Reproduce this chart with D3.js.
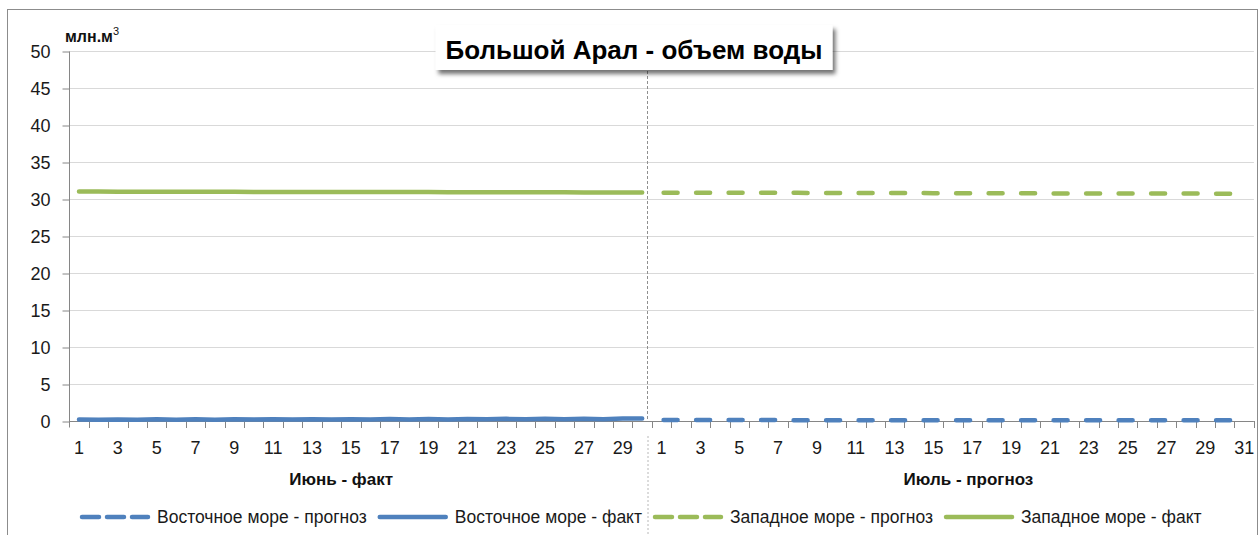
<!DOCTYPE html>
<html>
<head>
<meta charset="utf-8">
<script src="https://cdn.jsdelivr.net/npm/d3@7"></script>
<style>
  html, body { margin: 0; padding: 0; background: #fff; }
  svg { display: block; font-family: "Liberation Sans", Arial, sans-serif; }
</style>
</head>
<body>
<svg id="chart" width="1260" height="535"></svg>
<script>
// ---------- DATA ----------
const juneDays = [1,2,3,4,5,6,7,8,9,10,11,12,13,14,15,16,17,18,19,20,21,22,23,24,25,26,27,28,29,30];
const julyDays = [1,2,3,4,5,6,7,8,9,10,11,12,13,14,15,16,17,18,19,20,21,22,23,24,25,26,27,28,29,30,31];
const groupLabels = ["Июнь - факт", "Июль - прогноз"];
const yTicks = [0,5,10,15,20,25,30,35,40,45,50];

// East sea (Восточное море) – June fact, July forecast
const eastFact = [0.20,0.17,0.21,0.17,0.22,0.18,0.22,0.18,0.23,0.19,0.24,0.19,0.24,0.20,0.25,0.20,0.26,0.21,0.27,0.21,0.28,0.22,0.29,0.23,0.30,0.24,0.31,0.25,0.33,0.35];
const eastForecast = [0.12,0.12,0.12,0.12,0.12,0.12,0.12,0.11,0.11,0.11,0.11,0.11,0.11,0.11,0.11,0.11,0.11,0.11,0.11,0.10,0.10,0.10,0.10,0.10,0.10,0.10,0.10,0.10,0.10,0.10,0.10];
// West sea (Западное море) – June fact, July forecast
const westFact = [31.00,31.00,30.99,30.99,30.98,30.98,30.97,30.97,30.97,30.96,30.96,30.95,30.95,30.95,30.94,30.94,30.93,30.93,30.93,30.92,30.92,30.91,30.91,30.91,30.90,30.90,30.89,30.89,30.88,30.88];
const westForecast = [30.86,30.86,30.85,30.85,30.84,30.84,30.83,30.83,30.82,30.82,30.81,30.81,30.80,30.80,30.79,30.79,30.78,30.78,30.77,30.77,30.76,30.76,30.76,30.75,30.75,30.74,30.74,30.73,30.73,30.72,30.72];

const seriesNames = ["Восточное море - прогноз", "Восточное море - факт", "Западное море - прогноз", "Западное море - факт"];
const titleText = "Большой Арал - объем воды";
const unitText = "млн.м";

// ---------- STYLE ----------
const BLUE = "#4F81BD", GREEN = "#9BBB59";
const AXIS = "#868686", GRID = "#D9D9D9";

const svg = d3.select("#chart");
const juneKeys = juneDays.map(d => "J" + d);
const julyKeys = julyDays.map(d => "L" + d);
const keys = juneKeys.concat(julyKeys);

const x = d3.scaleBand().domain(keys).range([69.3, 1253.9]).padding(0);
const y = d3.scaleLinear().domain([0, 50]).range([421, 51]);
const cx = k => x(k) + x.bandwidth() / 2;

// outer frame
svg.append("rect").attr("x", 7.5).attr("y", 9.5).attr("width", 1250).attr("height", 540)
  .attr("fill", "none").attr("stroke", "#8C8C8C").attr("stroke-width", 1);

// gridlines
svg.append("g").selectAll("line").data(yTicks.filter(t => t > 0)).join("line")
  .attr("x1", x.range()[0]).attr("x2", x.range()[1])
  .attr("y1", d => Math.round(y(d)) + 0.5).attr("y2", d => Math.round(y(d)) + 0.5)
  .attr("stroke", GRID).attr("stroke-width", 1);

// y axis
const yAxis = svg.append("g").attr("transform", "translate(69.5,0.5)")
  .call(d3.axisLeft(y).tickValues(yTicks).tickSize(7).tickSizeOuter(0).tickPadding(12));
yAxis.select(".domain").attr("stroke", AXIS).attr("d", `M0,${y(50)}V${y(0) + 6}`);
yAxis.selectAll(".tick line").attr("stroke", AXIS);
yAxis.selectAll(".tick text").attr("font-size", 18).attr("fill", "#1a1a1a")
  .attr("font-family", "Liberation Sans, Arial, sans-serif");

// x axis baseline + ticks at band boundaries
const xg = svg.append("g");
xg.append("line").attr("x1", x.range()[0]).attr("x2", x.range()[1])
  .attr("y1", y(0) + 0.5).attr("y2", y(0) + 0.5).attr("stroke", AXIS);
const boundaries = keys.map(k => x(k)).concat([x.range()[1]]);
xg.selectAll("line.tk").data(boundaries.slice(1)).join("line").attr("class", "tk")
  .attr("x1", d => Math.round(d) + 0.5).attr("x2", d => Math.round(d) + 0.5)
  .attr("y1", y(0)).attr("y2", y(0) + 7).attr("stroke", AXIS);

// x tick labels (every second day)
const labelKeys = keys.filter(k => (+k.slice(1)) % 2 === 1);
xg.selectAll("text.dl").data(labelKeys).join("text").attr("class", "dl")
  .attr("x", d => cx(d)).attr("y", 454).attr("text-anchor", "middle")
  .attr("font-size", 18).attr("fill", "#1a1a1a").text(d => d.slice(1));

// group labels
const groupPos = [x("J15"), x("L17") + x.bandwidth() * 0.3];
xg.selectAll("text.gl").data(groupLabels).join("text").attr("class", "gl")
  .attr("x", (d, i) => groupPos[i]).attr("y", 485).attr("text-anchor", "middle")
  .attr("font-size", 17).attr("font-weight", "bold").attr("fill", "#111").text(d => d);

// light dotted group separator in label area
const sepX = cx("J30") + x.bandwidth() * 0.3;
svg.append("line").attr("x1", sepX).attr("x2", sepX).attr("y1", 436).attr("y2", 535)
  .attr("stroke", "#D0D0D0").attr("stroke-width", 1.5).attr("stroke-dasharray", "2,2");

// dark dashed divider in plot area
const divX = Math.round(cx("J30") + x.bandwidth() * 0.25) + 0.5;
svg.append("line").attr("x1", divX).attr("x2", divX).attr("y1", y(50)).attr("y2", y(0))
  .attr("stroke", "#8F8F8F").attr("stroke-width", 1).attr("stroke-dasharray", "3,2");

// series lines
const line = d3.line().x(d => cx(d.k)).y(d => y(d.v));
const series = [
  { keys: julyKeys, vals: eastForecast, color: BLUE, dash: true },
  { keys: juneKeys, vals: eastFact, color: BLUE, dash: false },
  { keys: julyKeys, vals: westForecast, color: GREEN, dash: true },
  { keys: juneKeys, vals: westFact, color: GREEN, dash: false }
];
svg.append("g").selectAll("path").data(series).join("path")
  .attr("d", s => line(s.vals.map((v, i) => ({ k: s.keys[i], v }))))
  .attr("fill", "none").attr("stroke", s => s.color).attr("stroke-width", 4.5)
  .attr("stroke-linecap", "round").attr("stroke-linejoin", "round")
  .attr("stroke-dasharray", s => s.dash ? "14,18.5" : null)
  .attr("stroke-dashoffset", s => s.dash ? -2 : null);

// unit label
const ul = svg.append("text").attr("x", 65).attr("y", 42).attr("font-size", 16)
  .attr("font-weight", "bold").attr("fill", "#111");
ul.append("tspan").text(unitText);
ul.append("tspan").attr("font-size", 11).attr("font-weight", "normal").attr("dy", -7).text("3");

// title box with shadow
const defs = svg.append("defs");
const f = defs.append("filter").attr("id", "sh").attr("x", "-10%").attr("y", "-30%").attr("width", "120%").attr("height", "170%");
f.append("feDropShadow").attr("dx", 3).attr("dy", 4).attr("stdDeviation", 2.2)
  .attr("flood-color", "#000").attr("flood-opacity", 0.55);
const tg = svg.append("g");
const tbox = tg.append("rect").attr("fill", "#fff").attr("filter", "url(#sh)");
const tt = tg.append("text").attr("x", 634).attr("y", 59).attr("text-anchor", "middle")
  .attr("font-size", 26).attr("font-weight", "bold").attr("fill", "#000").text(titleText);
const tw = tt.node().getComputedTextLength();
tbox.attr("x", 634 - tw / 2 - 10).attr("y", 25).attr("width", tw + 20).attr("height", 45);

// legend
const lg = svg.append("g");
const legendY = 517;
let lx = 80;
series.forEach((s, i) => {
  lg.append("line").attr("x1", lx + 2).attr("x2", lx + 68).attr("y1", legendY).attr("y2", legendY)
    .attr("stroke", s.color).attr("stroke-width", 4.5).attr("stroke-linecap", "round")
    .attr("stroke-dasharray", s.dash ? "17,8" : null);
  const t = lg.append("text").attr("x", lx + 77).attr("y", legendY + 6)
    .attr("font-size", 17.5).attr("fill", "#1a1a1a").text(seriesNames[i]);
  lx += 77 + t.node().getComputedTextLength() + 11;
});
</script>
</body>
</html>
